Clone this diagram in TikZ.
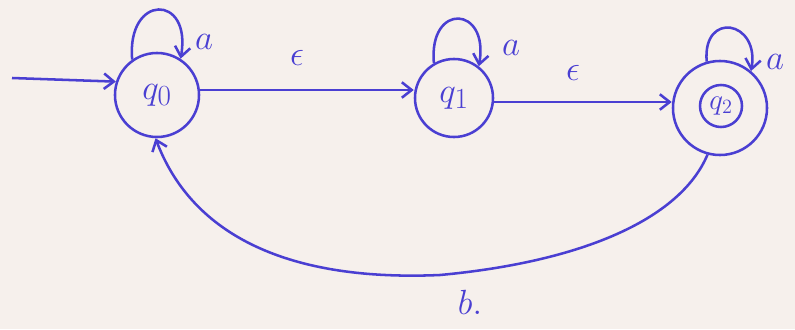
\documentclass[tikz,border=0pt]{standalone}
\usepackage{xcolor}
\usepackage{tikz}
\usetikzlibrary{positioning, arrows.meta, calc}
\definecolor{penblue}{HTML}{4A3FD2}
\definecolor{paper}{HTML}{F6F0EC}

\begin{document}
\begin{tikzpicture}[x=0.025cm, y=-0.025cm,
    state/.style={circle, draw=penblue, line width=1.8pt, text=penblue, font=\fontsize{30}{34}\selectfont, inner sep=0pt},
    trans/.style={draw=penblue, line width=1.8pt, -{Straight Barb[length=7pt, width=11pt]}},
    lab/.style={text=penblue, font=\fontsize{28}{32}\selectfont}]
    % page
    \fill[paper] (0,0) rectangle (795,329);
    \useasboundingbox (0,0) rectangle (795,329);

    % states
    \node[state, minimum size=2.1cm] (q0) at (157,95) {$q_0$};
    \node[state, minimum size=1.95cm] (q1) at (454,98) {$q_1$};
    \node[state, minimum size=2.35cm] (q2) at (720,108) {};
    \node[state, minimum size=1.05cm, font=\fontsize{20}{24}\selectfont] (q2in) at (721,106) {$q_2$};
    \coordinate (start) at (12,78);
    \coordinate (low) at (440,275);

    % start arrow
    \draw[trans] (start) -- (q0.162);

    % self loops
    \draw[trans] (q0.125) to[out=95, in=80, looseness=3.5] (q0.57);
    \draw[trans] (q1.120) to[out=95, in=80, looseness=3.5] (q1.52);
    \draw[trans] (q2.106) to[out=95, in=80, looseness=2.9] (q2.50);
    \node[lab] (a0) at (204,42) {$a$};
    \node[lab] (a1) at (511,48) {$a$};
    \node[lab] (a2) at (775,62) {$a$};

    % epsilon moves
    \draw[trans] (q0.east |- 0,90) -- (q1.west |- 0,90);
    \draw[trans] (q1.east |- 0,102) -- (q2.west |- 0,102);
    \node[lab] (e1) at (297,58) {$\epsilon$};
    \node[lab] (e2) at (573,73) {$\epsilon$};

    % back to q0
    \draw[trans] (q2.255) .. controls (680,220) and (580,262) .. (low)
        .. controls (280,282) and (190,230) .. (q0.268);
    \node[lab] (b) at (470,302) {$b.$};
\end{tikzpicture}
\end{document}
